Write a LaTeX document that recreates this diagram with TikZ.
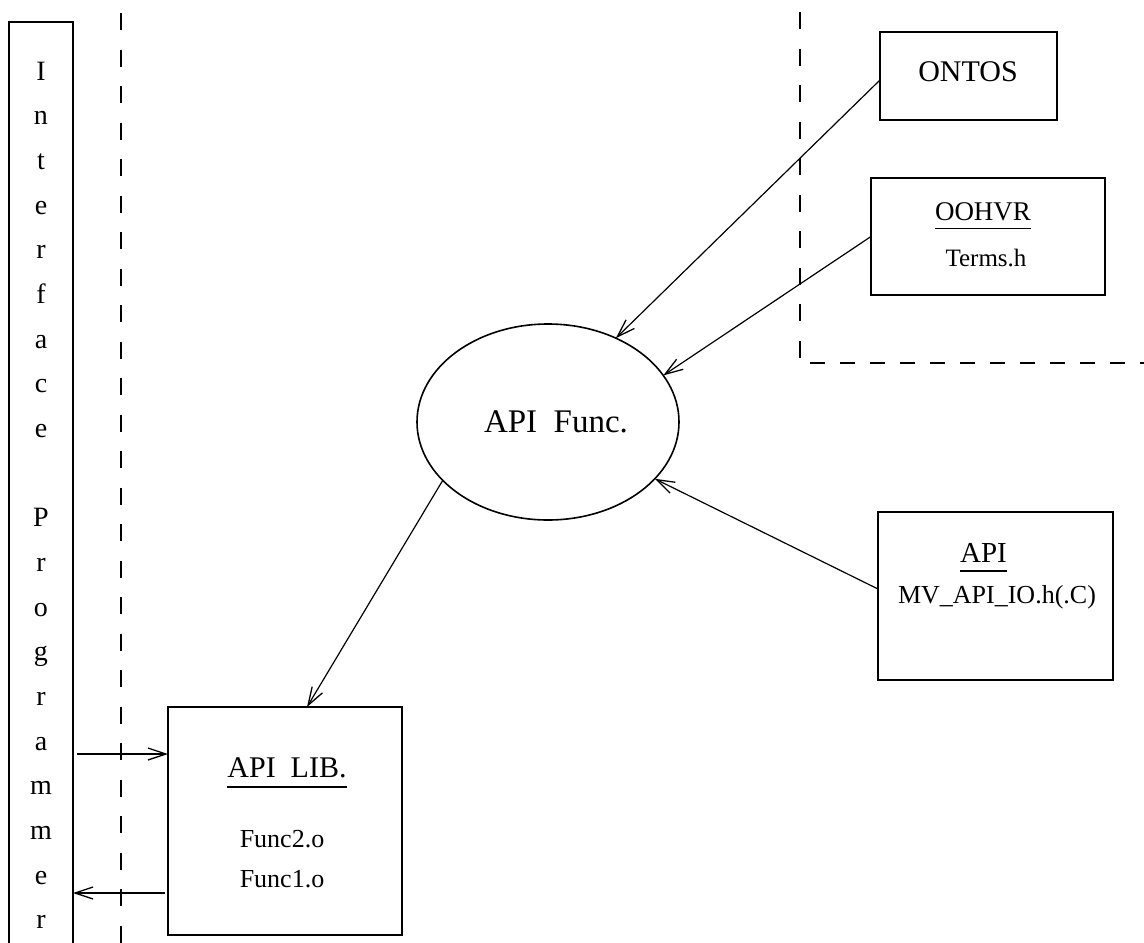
\documentclass[tikz,border=0pt]{standalone}
\usepackage{fontspec}
\setmainfont{Liberation Serif}
\usetikzlibrary{arrows.meta,shapes.geometric,calc}

\begin{document}
\begin{tikzpicture}[x=1pt,y=-1pt,
  frame/.style={draw,line width=1.6pt,inner sep=0pt,outer sep=0pt},
  conn/.style={line width=1.2pt,-{Straight Barb[length=18pt,width=12pt,line width=1.3pt]}},
  zone/.style={line width=1.6pt,dash pattern=on 17pt off 19.5pt},
  zoneh/.style={line width=1.6pt,dash pattern=on 15pt off 15pt},
  lbl/.style={inner sep=0pt,outer sep=0pt},
  uline/.style={line width=1.3pt}]
\useasboundingbox (0,0) rectangle (1144,943);
\clip (0,0) rectangle (1144,943);

% side bar: the programmer's interface
\node[frame,anchor=north west,minimum width=64pt,minimum height=940pt] (iface) at (9,22) {};
\foreach \ch [count=\i from 0] in {I,n,t,e,r,f,a,c,e,{},P,r,o,g,r,a,m,m,e,r}
  \node[lbl,anchor=base,font=\fontsize{28}{30}\selectfont] (ch\i) at (41,{80+44.67*\i}) {\ch};

% boundary lines
\draw[zone] (121,13) -- (121,943);
\draw[zone] (800,12) -- (800,358);
\draw[zoneh] (810,363) -- (1144,363);

% boxes
\node[frame,minimum width=177pt,minimum height=88pt] (ontos) at (968.5,76) {};
\node[lbl,font=\fontsize{30}{32}\selectfont] (ontost) at (968,72) {ONTOS};

\node[frame,minimum width=234pt,minimum height=117pt] (oohvr) at (988,236.5) {};
\node[lbl,font=\fontsize{27}{30}\selectfont] (oohvrt) at (983,211.5) {OOHVR};
\node[lbl,anchor=base,font=\fontsize{25}{30}\selectfont] (terms) at (986,266) {Terms.h};
\draw[uline] ([yshift=-8pt]oohvrt.south west) -- ([yshift=-8pt]oohvrt.south east);

\node[frame,minimum width=235pt,minimum height=168pt] (api) at (995.5,596) {};
\node[lbl,font=\fontsize{29}{30}\selectfont] (apit) at (983.5,552.5) {API};
\node[lbl,anchor=base,font=\fontsize{26}{30}\selectfont] (mvapi) at (997,603) {MV\_API\_IO.h(.C)};
\draw[uline] ([yshift=-9pt]apit.south west) -- ([yshift=-9pt]apit.south east);

\node[frame,ellipse,minimum width=262pt,minimum height=196pt] (func) at (548,422) {};
\node[lbl,font=\fontsize{33}{36}\selectfont] (funct) at (556,422) {API\ \ Func.};

\node[frame,minimum width=234pt,minimum height=228pt] (lib) at (285,821) {};
\node[lbl,font=\fontsize{30}{34}\selectfont] (libt) at (287,768) {API\ \ LIB.};
\node[lbl,anchor=base,font=\fontsize{26}{30}\selectfont] (f2) at (282,847) {Func2.o};
\node[lbl,anchor=base,font=\fontsize{26}{30}\selectfont] (f1) at (282,887) {Func1.o};
\draw[uline] ([yshift=-9pt]libt.south west) -- ([yshift=-9pt]libt.south east);

% connectors
\draw[conn] ([yshift=-4pt]ontos.west) -- (func.51.9);
\draw[conn] (oohvr.west) -- (func.22.7);
\draw[conn] ([yshift=7pt]api.west) -- (func.-28.8);
\draw[conn] (func.209.5) -- ([xshift=22pt]lib.north);

\coordinate (libin) at ([yshift=-47pt]lib.north west);
\coordinate (libout) at ([yshift=-186pt]lib.north west);
\draw[conn,shorten <=4pt] (iface.east |- libin) -- (libin);
\draw[conn,shorten <=3pt] (libout) -- (iface.east |- libout);
\end{tikzpicture}
\end{document}
